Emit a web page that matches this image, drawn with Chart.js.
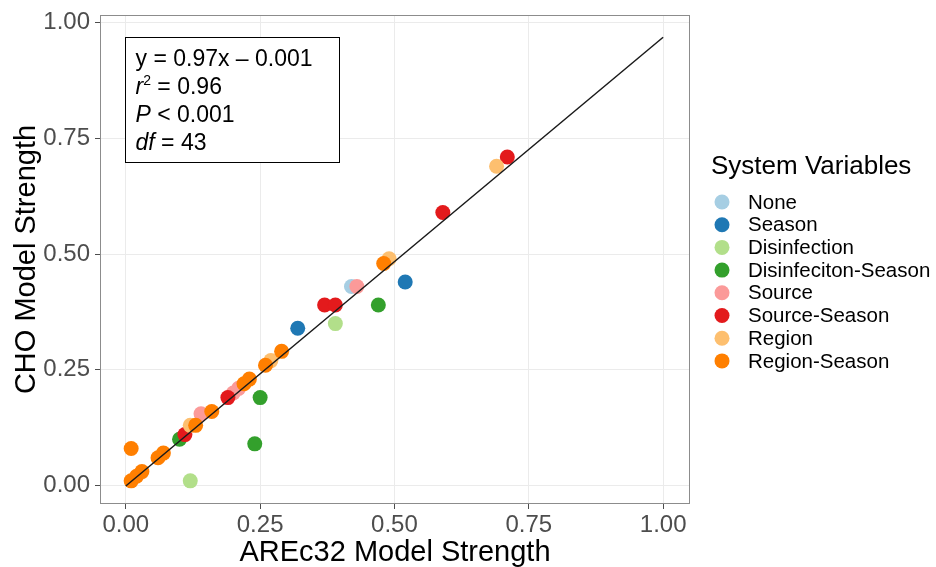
<!DOCTYPE html>
<html>
<head>
<meta charset="utf-8">
<title>CHO vs AREc32 model strength</title>
<script src="https://cdn.jsdelivr.net/npm/chart.js@4.4.1/dist/chart.umd.min.js"></script>
<style>
  html, body { margin: 0; padding: 0; background: #fff; }
  canvas { display: block; }
</style>
</head>
<body>
<canvas id="scatter-chart" width="936" height="567"></canvas>
<script>
// Model strength pairs [AREc32, CHO] for each system-variable group
const groupNames = ['None', 'Season', 'Disinfection', 'Disinfeciton-Season',
                    'Source', 'Source-Season', 'Region', 'Region-Season'];
const none = [[0.42, 0.43]];
const season = [[0.32, 0.34], [0.52, 0.44]];
const disinfection = [[0.12, 0.01], [0.39, 0.35]];
const disinfectionSeason = [[0.10, 0.10], [0.24, 0.09], [0.25, 0.19], [0.47, 0.39]];
const source = [[0.14, 0.155], [0.20, 0.20], [0.21, 0.21], [0.43, 0.43]];
const sourceSeason = [[0.11, 0.11], [0.19, 0.19], [0.37, 0.39], [0.39, 0.39], [0.59, 0.59], [0.71, 0.71]];
const region = [[0.12, 0.13], [0.27, 0.27], [0.49, 0.49], [0.69, 0.69]];
const regionSeason = [[0.01, 0.08], [0.01, 0.01], [0.02, 0.02], [0.03, 0.03], [0.06, 0.06], [0.07, 0.07],
                      [0.13, 0.13], [0.16, 0.16], [0.22, 0.22], [0.23, 0.23], [0.26, 0.26], [0.29, 0.29],
                      [0.48, 0.48]];
const groupData = [none, season, disinfection, disinfectionSeason, source, sourceSeason, region, regionSeason];

// Regression fit
const slope = 0.97;
const intercept = -0.001;
const fitRange = [0, 1];

const axisTicks = [0, 0.25, 0.5, 0.75, 1];

// Paired palette
const groupColors = ['#a6cee3', '#1f78b4', '#b2df8a', '#33a02c',
                     '#fb9a99', '#e31a1c', '#fdbf6f', '#ff7f00'];

const FONT = "'Liberation Sans', Arial, sans-serif";

const datasets = groupData.map((pairs, i) => ({
    type: 'scatter',
    label: groupNames[i],
    data: pairs.map(p => ({ x: p[0], y: p[1] })),
    backgroundColor: groupColors[i],
    borderWidth: 0,
    pointRadius: 7.5,
    pointHoverRadius: 7.5,
    order: groupNames.length - i   // later groups sit on top
}));

datasets.push({
    type: 'line',
    label: 'fit',
    data: fitRange.map(x => ({ x: x, y: slope * x + intercept })),
    borderColor: '#1a1a1a',
    borderWidth: 1.5,
    pointRadius: 0,
    fill: false,
    order: 0
});

// Grey frame round the plotting panel
const panelBorder = {
    id: 'panelBorder',
    afterDraw(chart) {
        const { ctx, chartArea: a } = chart;
        ctx.save();
        ctx.strokeStyle = '#8c8c8c';
        ctx.lineWidth = 1;
        ctx.strokeRect(a.left + 0.5, a.top + 0.5, a.right - a.left - 1, a.bottom - a.top - 1);
        ctx.restore();
    }
};

// Text runs drawn one after another; each run is [text, italic, superscript]
function drawRuns(ctx, runs, x, y, size) {
    runs.forEach(([text, italic, sup]) => {
        const fs = sup ? Math.round(size * 0.62) : size;
        ctx.font = (italic ? 'italic ' : '') + fs + 'px ' + FONT;
        ctx.fillText(text, x, sup ? y - size * 0.38 : y);
        x += ctx.measureText(text).width;
    });
}

// Fit statistics box anchored at the top-left of the data range
const statsBox = {
    id: 'statsBox',
    afterDatasetsDraw(chart) {
        const { ctx, scales: { x, y } } = chart;
        const left = Math.round(x.getPixelForValue(0)) - 0.5;
        const top = Math.round(y.getPixelForValue(0.97)) + 0.5;
        const w = 214, h = 125;
        ctx.save();
        ctx.fillStyle = '#fff';
        ctx.fillRect(left, top, w, h);
        ctx.strokeStyle = '#000';
        ctx.lineWidth = 1;
        ctx.strokeRect(left, top, w, h);
        ctx.fillStyle = '#000';
        ctx.textBaseline = 'alphabetic';
        const size = 23;
        const tx = left + 10;
        const lines = [
            [['y = 0.97x \u2013 0.001']],
            [['r', true], ['2', false, true], [' = 0.96']],
            [['P', true], [' < 0.001']],
            [['df', true], [' = 43']]
        ];
        lines.forEach((runs, i) => drawRuns(ctx, runs, tx, top + 28 + i * 28, size));
        ctx.restore();
    }
};

// Legend on the right
const groupLegend = {
    id: 'groupLegend',
    afterDraw(chart) {
        const ctx = chart.ctx;
        ctx.save();
        ctx.fillStyle = '#000';
        ctx.textBaseline = 'alphabetic';
        ctx.font = '26px ' + FONT;
        ctx.fillText('System Variables', 711, 174);
        ctx.font = '20.5px ' + FONT;
        ctx.textBaseline = 'middle';
        groupNames.forEach((name, i) => {
            const cy = 202 + i * 22.7;
            ctx.beginPath();
            ctx.arc(722, cy, 7.5, 0, Math.PI * 2);
            ctx.fillStyle = groupColors[i];
            ctx.fill();
            ctx.fillStyle = '#000';
            ctx.fillText(name, 748, cy + 1);
        });
        ctx.restore();
    }
};

function fixedTicks(scale) {
    scale.ticks = axisTicks.map(v => ({ value: v }));
}

// Fixed axis box sizes, no extra room for overhanging tick labels
function fixX(s) {
    s.height = 63;
    s.paddingLeft = 0;
    s.paddingRight = 0;
}
function fixY(s) {
    s.width = 100;
    s.paddingTop = 0;
    s.paddingBottom = 0;
}

const ctx = document.getElementById('scatter-chart').getContext('2d');

new Chart(ctx, {
    type: 'scatter',
    data: { datasets: datasets },
    options: {
        responsive: false,
        animation: false,
        layout: { padding: { left: 0, right: 246, top: 15, bottom: 0 } },
        plugins: {
            legend: { display: false },
            tooltip: { enabled: false }
        },
        scales: {
            x: {
                type: 'linear',
                min: -0.048,
                max: 1.05,
                afterBuildTicks: fixedTicks,
                afterFit: fixX,
                ticks: {
                    font: { size: 24, family: FONT },
                    color: '#4d4d4d',
                    padding: 2,
                    maxRotation: 0,
                    callback: v => v.toFixed(2)
                },
                grid: { color: '#ebebeb', lineWidth: 1, tickLength: 5, tickColor: '#4d4d4d' },
                border: { display: false },
                title: {
                    display: true,
                    text: 'AREc32 Model Strength',
                    font: { size: 29, family: FONT, lineHeight: 1 },
                    color: '#000',
                    padding: { top: 0, bottom: 0 }
                }
            },
            y: {
                type: 'linear',
                min: -0.04,
                max: 1.017,
                afterBuildTicks: fixedTicks,
                afterFit: fixY,
                ticks: {
                    font: { size: 24, family: FONT },
                    color: '#4d4d4d',
                    padding: 5,
                    callback: v => v.toFixed(2)
                },
                grid: { color: '#ebebeb', lineWidth: 1, tickLength: 5, tickColor: '#4d4d4d' },
                border: { display: false },
                title: {
                    display: true,
                    text: 'CHO Model Strength',
                    font: { size: 29, family: FONT, lineHeight: 1 },
                    color: '#000',
                    padding: { top: 12, bottom: 0 }
                }
            }
        }
    },
    plugins: [panelBorder, statsBox, groupLegend]
});
</script>
</body>
</html>
